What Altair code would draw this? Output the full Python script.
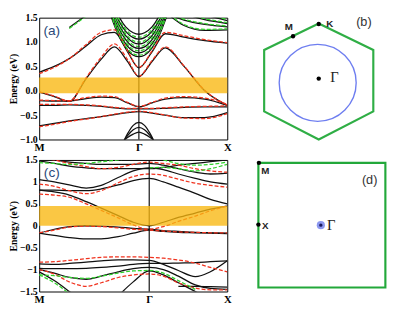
import altair as alt
import pandas as pd

N = None

# ---------------- panel (a) ----------------
KA = [0.0, 0.08, 0.16, 0.25, 0.33, 0.40, 0.47, 0.53, 0.60, 0.67, 0.77, 0.88, 1.0]
GAMMA_A = 0.53
A_BLACK = [
    [-0.72, -0.67, -0.62, -0.57, -0.53, -0.49, -0.45, -0.43, -0.46, -0.50, -0.55, -0.55, -0.45],
    [-0.30, -0.30, -0.29, -0.30, -0.32, -0.35, -0.37, -0.37, -0.37, -0.36, -0.34, -0.33, -0.33],
    [-0.20, -0.21, -0.21, -0.16, -0.13, -0.14, -0.25, -0.33, -0.25, -0.17, -0.14, -0.17, -0.30],
    [-0.03, -0.12, -0.22, 0.25, 0.65, 0.90, 0.60, 0.29, 0.60, 0.88, 0.50, 0.00, -0.30],
    [0.38, 0.50, 0.66, 0.92, 1.15, 1.20, 0.80, 0.47, 0.80, 1.17, 1.10, 1.03, 0.98],
    [N, N, 1.30, 1.55, N, N, N, N, N, N, N, N, N],
    [N, N, N, N, N, N, N, N, N, 1.60, 1.45, 1.36, 1.31],
    [N, N, N, N, N, N, N, N, N, N, 1.58, 1.46, 1.38],
    [N, N, N, N, N, N, N, N, N, N, N, 1.56, 1.44],
    [N, N, N, N, N, N, N, N, N, 1.62, 1.34, 1.24, 1.25],
]
A_RED = [
    [-0.74, -0.69, -0.63, -0.58, -0.53, -0.48, -0.44, -0.42, -0.45, -0.50, -0.56, -0.57, -0.47],
    [-0.28, -0.28, -0.28, -0.29, -0.31, -0.34, -0.36, -0.36, -0.36, -0.35, -0.33, -0.32, -0.31],
    [-0.19, -0.20, -0.20, -0.14, -0.11, -0.12, -0.24, -0.32, -0.24, -0.15, -0.12, -0.15, -0.28],
    [-0.02, -0.11, -0.21, 0.27, 0.69, 0.96, 0.64, 0.30, 0.62, 0.90, 0.51, 0.01, -0.29],
    [0.35, 0.48, 0.66, 0.95, 1.20, 1.25, 0.82, 0.48, 0.82, 1.20, 1.13, 1.05, 0.99],
]
A_GREEN = [
    [N, N, 1.28, 1.53, N, N, N, N, N, N, N, N, N],
    [N, N, N, N, N, N, N, N, N, 1.62, 1.47, 1.38, 1.33],
    [N, N, N, N, N, N, N, N, N, N, 1.60, 1.48, 1.40],
    [N, N, N, N, N, N, N, N, N, N, N, 1.58, 1.46],
    [N, N, N, N, N, N, N, N, N, 1.64, 1.36, 1.26, 1.27],
]
KA_G = [0.38, 0.42, 0.46, 0.50, 0.53, 0.56, 0.60, 0.64, 0.68]
A_CLUSTER_BLACK = [
    [1.55, 1.15, 0.88, 0.73, 0.70, 0.73, 0.88, 1.15, 1.55],
    [1.60, 1.22, 0.96, 0.81, 0.78, 0.81, 0.96, 1.22, 1.60],
    [1.66, 1.30, 1.05, 0.90, 0.87, 0.90, 1.05, 1.30, 1.66],
    [1.72, 1.38, 1.13, 0.99, 0.96, 0.99, 1.13, 1.38, 1.72],
    [1.80, 1.46, 1.22, 1.09, 1.06, 1.09, 1.22, 1.46, 1.80],
    [1.88, 1.55, 1.31, 1.19, 1.16, 1.19, 1.31, 1.55, 1.88],
]
A_CLUSTER_GREEN = [
    [1.58, 1.18, 0.91, 0.76, 0.73, 0.76, 0.91, 1.18, 1.58],
    [1.63, 1.26, 1.00, 0.85, 0.82, 0.85, 1.00, 1.26, 1.63],
    [1.70, 1.34, 1.09, 0.94, 0.91, 0.94, 1.09, 1.34, 1.70],
    [1.76, 1.42, 1.17, 1.03, 1.00, 1.03, 1.17, 1.42, 1.76],
    [1.84, 1.50, 1.26, 1.13, 1.10, 1.13, 1.26, 1.50, 1.84],
]
KA_P = [0.43, 0.47, 0.50, 0.53, 0.56, 0.59, 0.63]
A_LOW_BLACK = [
    [-1.20, -0.88, -0.71, -0.65, -0.71, -0.88, -1.20],
    [-1.15, -0.92, -0.80, -0.75, -0.80, -0.92, -1.15],
    [-1.10, -0.96, -0.89, -0.85, -0.89, -0.96, -1.10],
]
A_GAP = [-0.05, 0.27]
A_TICKS = [-1.0, -0.5, 0.0, 0.5, 1.0, 1.5]

# ---------------- panel (c) ----------------
KC = [0.0, 0.08, 0.16, 0.25, 0.33, 0.42, 0.50, 0.585, 0.66, 0.74, 0.83, 0.91, 1.0]
GAMMA_C = 0.585
C_BLACK = [
    [0.81, 0.77, 0.70, 0.55, 0.40, 0.23, 0.08, 0.00, 0.08, 0.19, 0.29, 0.38, 0.45],
    [-0.17, -0.08, -0.02, 0.00, -0.01, -0.03, -0.06, -0.08, -0.11, -0.13, -0.15, -0.16, -0.17],
    [-0.17, -0.22, -0.27, -0.30, -0.30, -0.25, -0.17, -0.10, -0.13, -0.15, -0.16, -0.17, -0.18],
    [1.05, 1.00, 0.93, 0.86, 0.92, 1.10, 1.25, 1.32, 1.28, 1.18, 1.08, 1.00, 0.95],
    [0.81, 0.81, 0.80, 0.80, 0.84, 0.93, 1.03, 1.08, 1.00, 0.88, 0.74, 0.60, 0.50],
    [1.48, 1.42, 1.36, 1.32, 1.30, 1.30, 1.30, 1.30, 1.33, 1.38, 1.42, 1.46, 1.50],
    [1.55, 1.50, 1.45, 1.42, 1.40, 1.40, 1.40, 1.42, 1.38, 1.30, 1.22, 1.18, 1.20],
    [-0.87, -0.88, -0.86, -0.83, -0.80, -0.78, -0.78, -0.79, -0.88, -1.02, -1.16, -1.05, -0.80],
    [-0.97, -0.98, -0.98, -0.97, -0.95, -0.92, -0.88, -0.86, -0.86, -0.85, -0.84, -0.82, -0.80],
    [-1.00, -1.08, -1.18, -1.22, -1.15, -1.05, -0.98, -0.95, -1.00, -1.15, -1.35, -1.43, -1.45],
    [-1.05, -1.25, -1.50, -1.80, N, N, N, N, N, N, N, N, N],
    [N, N, N, N, N, -1.60, -1.28, -1.03, -1.12, -1.30, -1.50, -1.70, N],
    [N, N, N, N, N, N, N, N, N, -1.38, -1.38, -1.39, -1.40],
]
C_RED = [
    [0.72, 0.70, 0.65, 0.50, 0.35, 0.18, 0.02, -0.08, -0.02, 0.10, 0.22, 0.34, 0.45],
    [-0.16, -0.10, -0.03, -0.01, -0.02, -0.05, -0.08, -0.10, -0.12, -0.14, -0.15, -0.16, -0.16],
    [0.95, 0.90, 0.80, 0.73, 0.80, 0.98, 1.12, 1.18, 1.15, 1.06, 0.97, 0.92, 0.88],
    [1.55, 1.50, 1.42, 1.35, 1.30, 1.33, 1.40, 1.45, 1.42, 1.38, 1.30, 1.25, 1.22],
    [-0.83, -0.82, -0.79, -0.75, -0.72, -0.71, -0.71, -0.72, -0.74, -0.78, -0.85, -0.95, -1.05],
    [-1.00, -1.10, -1.28, -1.38, -1.30, -1.18, -1.12, -1.10, -1.15, -1.30, -1.42, -1.46, -1.46],
]
C_GREEN = [
    [1.44, 1.42, 1.40, 1.42, 1.46, 1.50, 1.55, N, N, N, N, N, N],
    [N, N, N, N, N, N, N, 1.32, 1.33, 1.30, 1.25, 1.30, 1.40],
    [N, N, N, N, N, N, N, N, 1.50, 1.42, 1.38, 1.40, 1.45],
    [-1.12, -1.14, -1.18, -1.20, -1.15, -1.08, -1.03, -1.02, -1.08, -1.25, -1.45, N, N],
    [-1.12, -1.30, -1.55, N, N, N, N, N, N, N, N, N, N],
]
C_GAP = [0.0, 0.45]
C_TICKS = [-1.5, -1.0, -0.5, 0.0, 0.5, 1.0, 1.5]

# ---------------- panel (b) : hexagonal zone ----------------
HEX_X = [-0.04, 1.00, 1.00, -0.04, -1.08, -1.08, -0.04]
HEX_Y = [1.04, 0.54, -0.62, -1.15, -0.62, 0.54, 1.04]
B_CIRCLE = [-0.06, -0.08]
B_DOT_X = [-0.53, -0.04, -0.04]
B_DOT_Y = [0.80, 1.03, 0.00]
B_LAB = ["M", "K"]
B_LAB_X = [-0.61, 0.17]
B_LAB_Y = [0.97, 1.03]
B_GAMMA = [0.26, 0.02]
B_TAG = [0.82, 1.06]

# ---------------- panel (d) : square zone ----------------
SQ_X = [-1.19, 1.23, 1.23, -1.19, -1.19]
SQ_Y = [1.10, 1.10, -1.08, -1.08, 1.10]
D_DOT_X = [-1.18, -1.19]
D_DOT_Y = [1.10, 0.02]
D_LAB = ["M", "X"]
D_LAB_X = [-1.06, -1.06]
D_LAB_Y = [0.95, 0.00]
D_CENTER = [0.0, 0.01]
D_GAMMA = [0.2, 0.01]
D_TAG = [0.93, 0.80]

BLACK = "#111111"
RED = "#f0321e"
GREEN = "#30d22c"
YELLOW = "#f8b70f"
SERIF = "Liberation Serif"
SANS = "Liberation Sans"


def long(k, bands, tag):
    rows = []
    for i, b in enumerate(bands):
        for kk, e in zip(k, b):
            if e is not None:
                rows.append({"k": kk, "E": e, "band": f"{tag}{i}"})
    return pd.DataFrame(rows)


def band_panel(width, height, edom, ticks, fmt, gamma, tag, gap, tagpos,
               black_sets, red_sets, green_sets):
    xs = alt.Scale(domain=[0, 1], nice=False, zero=False)
    ys = alt.Scale(domain=edom, nice=False, zero=False)
    xaxis = alt.Axis(values=[0, gamma, 1],
                     labelExpr="datum.value < 0.1 ? 'M' : (datum.value > 0.9 ? 'X' : 'Γ')",
                     title=None, ticks=False, labelFlush=False, labelOverlap=False,
                     labelFont=SERIF, labelFontWeight="bold", labelFontSize=11,
                     labelColor="black", labelPadding=2, domain=False, grid=False)
    yaxis = alt.Axis(values=ticks, format=fmt, title="Energy (eV)", ticks=False,
                     labelFont=SERIF, labelFontWeight="bold", labelFontSize=10,
                     labelColor="black", labelPadding=2, titleFont=SERIF,
                     titleFontWeight="bold", titleFontSize=10, titleColor="black",
                     titlePadding=1, domain=False, grid=False, labelFlush=False)
    X = alt.X("k:Q", scale=xs, axis=xaxis)
    Y = alt.Y("E:Q", scale=ys, axis=yaxis)
    layers = []
    for idx, (kk, bands) in enumerate(black_sets):
        df = long(kk, bands, f"b{idx}_")
        layers.append(alt.Chart(df).mark_line(clip=True, color=BLACK, strokeWidth=1.3,
                                              interpolate="monotone")
                      .encode(x=X, y=Y, detail="band:N", order="k:Q"))
    for idx, (kk, bands) in enumerate(red_sets):
        df = long(kk, bands, f"r{idx}_")
        layers.append(alt.Chart(df).mark_line(clip=True, color=RED, strokeWidth=1.3,
                                              strokeDash=[4, 2], interpolate="monotone")
                      .encode(x=X, y=Y, detail="band:N", order="k:Q"))
    for idx, (kk, bands) in enumerate(green_sets):
        df = long(kk, bands, f"g{idx}_")
        layers.append(alt.Chart(df).mark_line(clip=True, color=GREEN, strokeWidth=1.3,
                                              strokeDash=[4, 2], interpolate="monotone")
                      .encode(x=X, y=Y, detail="band:N", order="k:Q"))
    gdf = pd.DataFrame({"k": [gamma]})
    layers.append(alt.Chart(gdf).mark_rule(color=BLACK, strokeWidth=1.2).encode(x=X))
    rdf = pd.DataFrame({"k": [0.0], "k2": [1.0], "E": [gap[0]], "E2": [gap[1]]})
    layers.append(alt.Chart(rdf).mark_rect(color=YELLOW, opacity=0.78)
                  .encode(x=X, x2="k2:Q", y=Y, y2="E2:Q"))
    tdf = pd.DataFrame({"k": [tagpos[0]], "E": [tagpos[1]], "t": [tag]})
    layers.append(alt.Chart(tdf).mark_text(font=SANS, fontSize=14, color="#2b4a7a",
                                           align="center", baseline="middle")
                  .encode(x=X, y=Y, text="t:N"))
    return alt.layer(*layers).properties(width=width, height=height)


a_chart = band_panel(193, 125, [-1.0, 1.5], A_TICKS, ".1f", GAMMA_A, "(a)", A_GAP,
                     [0.067, 1.22],
                     [(KA, A_BLACK), (KA_G, A_CLUSTER_BLACK), (KA_P, A_LOW_BLACK)],
                     [(KA, A_RED)],
                     [(KA, A_GREEN), (KA_G, A_CLUSTER_GREEN)])

c_chart = band_panel(193, 135, [-1.5, 1.5], C_TICKS, "~g", GAMMA_C, "(c)", C_GAP,
                     [0.067, 1.19],
                     [(KC, C_BLACK)],
                     [(KC, C_RED)],
                     [(KC, C_GREEN)])


def zone_panel(width, height, ydom, px, py, lcolor, dots_x, dots_y, labs, lab_x, lab_y,
               gamma_pos, tag, tag_pos, extra):
    xs = alt.Scale(domain=[-1.3, 1.3], nice=False, zero=False)
    ys = alt.Scale(domain=ydom, nice=False, zero=False)
    X = lambda f: alt.X(f, scale=xs, axis=None)
    Y = lambda f: alt.Y(f, scale=ys, axis=None)
    odf = pd.DataFrame({"x": px, "y": py, "o": list(range(len(px)))})
    layers = [alt.Chart(odf).mark_line(color=lcolor, strokeWidth=2.2)
              .encode(x=X("x:Q"), y=Y("y:Q"), order="o:Q")]
    layers += extra(X, Y)
    ddf = pd.DataFrame({"x": dots_x, "y": dots_y})
    layers.append(alt.Chart(ddf).mark_point(filled=True, color="black", size=20, opacity=1)
                  .encode(x=X("x:Q"), y=Y("y:Q")))
    ldf = pd.DataFrame({"x": lab_x, "y": lab_y, "t": labs})
    layers.append(alt.Chart(ldf).mark_text(font=SANS, fontWeight="bold", fontSize=10,
                                           color="#222222", align="center", baseline="middle")
                  .encode(x=X("x:Q"), y=Y("y:Q"), text="t:N"))
    gdf = pd.DataFrame({"x": [gamma_pos[0]], "y": [gamma_pos[1]], "t": ["Γ"]})
    layers.append(alt.Chart(gdf).mark_text(font=SERIF, fontSize=15, color="#222222",
                                           align="center", baseline="middle")
                  .encode(x=X("x:Q"), y=Y("y:Q"), text="t:N"))
    tdf = pd.DataFrame({"x": [tag_pos[0]], "y": [tag_pos[1]], "t": [tag]})
    layers.append(alt.Chart(tdf).mark_text(font=SANS, fontSize=13, color="#333333",
                                           align="center", baseline="middle")
                  .encode(x=X("x:Q"), y=Y("y:Q"), text="t:N"))
    return alt.layer(*layers).properties(width=width, height=height,
                                         view=alt.ViewBackground(stroke="transparent"))


def b_extra(X, Y):
    cdf = pd.DataFrame({"x": [B_CIRCLE[0]], "y": [B_CIRCLE[1]]})
    return [alt.Chart(cdf).mark_point(shape="circle", size=6241, filled=False,
                                      color="#6e7ef0", strokeWidth=1.4, opacity=1)
            .encode(x=X("x:Q"), y=Y("y:Q"))]


def d_extra(X, Y):
    cdf = pd.DataFrame({"x": [D_CENTER[0]], "y": [D_CENTER[1]]})
    return [alt.Chart(cdf).mark_point(shape="circle", size=70, filled=True,
                                      color="#8c98f0", opacity=1)
            .encode(x=X("x:Q"), y=Y("y:Q")),
            alt.Chart(cdf).mark_point(shape="circle", size=12, filled=True,
                                      color="#1a1a60", opacity=1)
            .encode(x=X("x:Q"), y=Y("y:Q"))]


b_chart = zone_panel(140, 125, [-1.15, 1.15], HEX_X, HEX_Y, "#2fae45", B_DOT_X, B_DOT_Y,
                     B_LAB, B_LAB_X, B_LAB_Y, B_GAMMA, "(b)", B_TAG, b_extra)
d_chart = zone_panel(140, 135, [-1.15, 1.15], SQ_X, SQ_Y, "#22a83a", D_DOT_X, D_DOT_Y,
                     D_LAB, D_LAB_X, D_LAB_Y, D_GAMMA, "(d)", D_TAG, d_extra)

top = alt.hconcat(a_chart, b_chart, spacing=20)
bottom = alt.hconcat(c_chart, d_chart, spacing=20)
chart = (alt.vconcat(top, bottom, spacing=1)
         .properties(padding=0)
         .configure_view(stroke="black", strokeWidth=1))

chart.save("out.html", embed_options={"renderer": "svg", "actions": False})
